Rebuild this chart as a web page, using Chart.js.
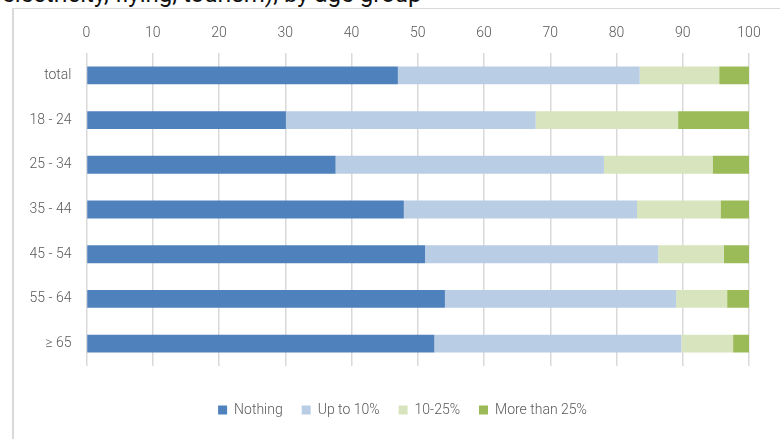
<!DOCTYPE html>
<html>
<head>
<meta charset="utf-8">
<script src="https://cdn.jsdelivr.net/npm/chart.js@4"></script>
<style>
  html, body { margin: 0; padding: 0; background: #fff; overflow: hidden; }
  #wrap { position: relative; width: 780px; height: 439px; overflow: hidden; }
  #frame { position: absolute; left: 12px; top: 8px; width: 770px; height: 440px;
           border-top: 1px solid #d9d9d9; border-left: 2px solid #d9d9d9; box-sizing: border-box; }
  #title { position: absolute; left: 2px; top: -18px; font-family: Roboto, sans-serif;
           font-size: 24px; line-height: 24px; color: #111; white-space: nowrap; }
  canvas { position: absolute; left: 0; top: 0; }
</style>
</head>
<body>
<div id="wrap">
  <div id="frame"></div>
  <div id="title">electricity, flying, tourism), by age group</div>
  <canvas id="c" width="780" height="439"></canvas>
</div>
<script>
const categories = ["total", "18 - 24", "25 - 34", "35 - 44", "45 - 54", "55 - 64", "\u2265 65"];
const seriesNames = ["Nothing", "Up to 10%", "10-25%", "More than 25%"];
const nothing = [47.0, 30.1, 37.6, 47.9, 51.1, 54.1, 52.5];
const upTo10 = [36.5, 37.7, 40.5, 35.2, 35.2, 34.9, 37.3];
const from10to25 = [12.0, 21.5, 16.4, 12.6, 9.9, 7.7, 7.8];
const moreThan25 = [4.5, 10.7, 5.5, 4.3, 3.8, 3.3, 2.4];
const xTicks = [0, 10, 20, 30, 40, 50, 60, 70, 80, 90, 100];

const colors = ["#4f81bd", "#b9cde5", "#d7e4bd", "#9bbb59"];
const seriesData = [nothing, upTo10, from10to25, moreThan25];

const FONT = "Roboto, 'Open Sans', sans-serif";
const GREY = "#595959";

const legendShift = {
  id: "legendShift",
  afterLayout(chart) {
    const l = chart.legend;
    if (l) { l.left += 28; l.right += 28; }
  }
};

new Chart(document.getElementById("c"), {
  type: "bar",
  data: {
    labels: categories,
    datasets: seriesNames.map((n, i) => ({
      label: n,
      data: seriesData[i],
      backgroundColor: colors[i],
      borderWidth: 0,
      barPercentage: 0.4,
      categoryPercentage: 1.0
    }))
  },
  plugins: [legendShift],
  options: {
    indexAxis: "y",
    responsive: false,
    animation: false,
    devicePixelRatio: 1,
    layout: { padding: { left: 0, right: 31, top: 0, bottom: 12 } },
    scales: {
      x: {
        position: "top",
        stacked: true,
        min: 0, max: 100,
        afterBuildTicks: s => { s.ticks = xTicks.map(v => ({ value: v })); },
        afterFit: s => { s.height = 53; },
        grid: { color: "#d9d9d9", lineWidth: 1.5, drawTicks: false },
        border: { display: false },
        ticks: { color: GREY, padding: 11, font: { family: FONT, size: 14, weight: 300 } }
      },
      x2: {
        type: "linear",
        position: "bottom",
        display: true,
        afterFit: s => { s.height = 18; },
        grid: { display: false },
        border: { display: false },
        ticks: { display: false }
      },
      y: {
        stacked: true,
        afterFit: s => { s.width = 86.5; },
        grid: { display: false, drawTicks: false },
        border: { display: false },
        ticks: { color: GREY, padding: 15, font: { family: FONT, size: 14, weight: 300 } }
      }
    },
    plugins: {
      tooltip: { enabled: false },
      legend: {
        position: "bottom",
        labels: {
          boxWidth: 9, boxHeight: 9, padding: 19,
          color: GREY,
          font: { family: FONT, size: 14, weight: 300 }
        }
      }
    }
  }
});
</script>
</body>
</html>
